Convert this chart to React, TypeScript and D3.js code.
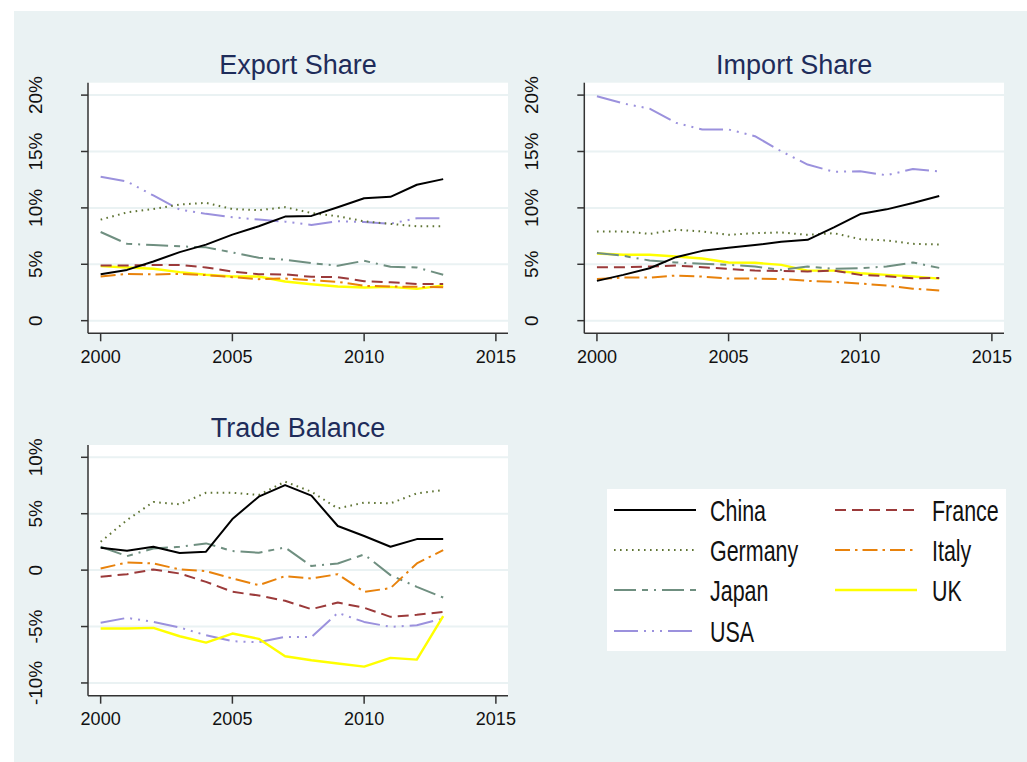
import React from "react";
import * as d3 from "d3";

// years shared by every series
const years = [2000, 2001, 2002, 2003, 2004, 2005, 2006, 2007, 2008, 2009, 2010, 2011, 2012, 2013];

const countries = ["China", "France", "Germany", "Italy", "Japan", "UK", "USA"];

// export share, % of world exports
const exportChina = [4.12, 4.5, 5.25, 6.08, 6.74, 7.63, 8.37, 9.23, 9.29, 10.06, 10.86, 10.98, 12.05, 12.55];
const exportFrance = [4.9, 4.9, 4.93, 4.93, 4.72, 4.36, 4.12, 4.1, 3.89, 3.86, 3.5, 3.41, 3.26, 3.26];
const exportGermany = [8.96, 9.6, 9.9, 10.3, 10.45, 9.9, 9.8, 10.06, 9.55, 9.26, 8.81, 8.58, 8.37, 8.37];
const exportItaly = [3.92, 4.15, 4.1, 4.15, 4.04, 3.86, 3.68, 3.74, 3.59, 3.44, 3.09, 3.03, 3.0, 2.97];
const exportJapan = [7.86, 6.82, 6.7, 6.59, 6.5, 6.05, 5.58, 5.4, 5.1, 4.87, 5.31, 4.78, 4.72, 4.07];
const exportUK = [4.84, 4.72, 4.6, 4.3, 4.07, 3.92, 3.92, 3.47, 3.23, 3.03, 2.94, 3.0, 2.82, 3.12];
const exportUSA = [12.76, 12.34, 11.1, 9.85, 9.47, 9.17, 8.96, 8.78, 8.49, 8.81, 8.75, 8.6, 9.08, 9.08];

// import share, % of world imports
const importChina = [3.53, 4.06, 4.65, 5.63, 6.19, 6.46, 6.7, 6.99, 7.17, 8.27, 9.45, 9.87, 10.43, 11.05];
const importFrance = [4.74, 4.74, 4.8, 4.89, 4.74, 4.59, 4.44, 4.41, 4.36, 4.44, 4.06, 3.94, 3.76, 3.79];
const importGermany = [7.91, 7.91, 7.7, 8.06, 7.91, 7.61, 7.76, 7.82, 7.61, 7.76, 7.23, 7.11, 6.81, 6.76];
const importItaly = [3.7, 3.82, 3.82, 4.0, 3.91, 3.73, 3.73, 3.7, 3.53, 3.44, 3.29, 3.11, 2.84, 2.67];
const importJapan = [6.01, 5.75, 5.33, 5.16, 5.04, 4.95, 4.8, 4.5, 4.8, 4.59, 4.65, 4.8, 5.16, 4.68];
const importUK = [5.96, 5.84, 5.84, 5.69, 5.51, 5.16, 5.13, 4.95, 4.44, 4.44, 4.21, 4.06, 3.91, 3.73];
const importUSA = [19.9, 19.26, 18.8, 17.54, 16.95, 16.95, 16.36, 15.02, 13.84, 13.21, 13.24, 12.89, 13.45, 13.24];

// trade balance, % of trade
const balanceChina = [1.98, 1.72, 2.07, 1.51, 1.63, 4.53, 6.51, 7.54, 6.6, 3.91, 3.02, 2.07, 2.75, 2.75];
const balanceFrance = [-0.59, -0.36, 0.06, -0.3, -1.04, -1.92, -2.25, -2.72, -3.46, -2.87, -3.34, -4.14, -3.96, -3.7];
const balanceGermany = [2.51, 4.44, 6.04, 5.83, 6.86, 6.86, 6.66, 7.84, 6.95, 5.47, 5.98, 5.92, 6.8, 7.1];
const balanceItaly = [0.15, 0.68, 0.59, 0.06, -0.09, -0.74, -1.33, -0.53, -0.74, -0.36, -1.92, -1.6, 0.59, 1.78];
const balanceJapan = [2.07, 1.24, 1.92, 2.07, 2.37, 1.69, 1.54, 2.01, 0.36, 0.59, 1.39, -0.44, -1.48, -2.43];
const balanceUK = [-5.18, -5.18, -5.12, -5.86, -6.42, -5.62, -6.09, -7.63, -7.99, -8.28, -8.55, -7.78, -7.93, -4.08];
const balanceUSA = [-4.67, -4.23, -4.59, -5.09, -5.77, -6.3, -6.39, -5.92, -5.92, -3.79, -4.59, -5.03, -4.88, -4.29];

const shareTicks = [0, 5, 10, 15, 20];
const balanceTicks = [-10, -5, 0, 5, 10];
const yearTicks = [2000, 2005, 2010, 2015];

const styles: Record<string, { color: string; dash: string; width: number }> = {
  China: { color: "#000000", dash: "none", width: 2 },
  France: { color: "#9b3a3a", dash: "11 6", width: 2 },
  Germany: { color: "#5f7434", dash: "1.6 4.4", width: 2 },
  Italy: { color: "#e8820c", dash: "15 5 2.5 5", width: 2 },
  Japan: { color: "#6f8f80", dash: "22 6 6 6 2 6", width: 2 },
  UK: { color: "#ffff00", dash: "none", width: 2.4 },
  USA: { color: "#9b91dd", dash: "24 6 2 6 2 6 2 6", width: 2 },
};

const BG = "#eaf2f3";
const FONT = "Arial, 'Liberation Sans', sans-serif";

type Panel = {
  title: string;
  x0: number; x1: number; y0: number; y1: number;
  domain: [number, number];
  ticks: number[];
  series: number[][];
  labelY: number;
};

const panels: Panel[] = [
  {
    title: "Export Share", x0: 88, x1: 508, y0: 82.7, y1: 333.3, domain: [-1.12, 21.1], ticks: shareTicks, labelY: 362.7,
    series: [exportChina, exportFrance, exportGermany, exportItaly, exportJapan, exportUK, exportUSA],
  },
  {
    title: "Import Share", x0: 584.3, x1: 1004, y0: 82.7, y1: 333.3, domain: [-1.12, 21.1], ticks: shareTicks, labelY: 362.7,
    series: [importChina, importFrance, importGermany, importItaly, importJapan, importUK, importUSA],
  },
  {
    title: "Trade Balance", x0: 88, x1: 508, y0: 445, y1: 695.7, domain: [-11.13, 11.09], ticks: balanceTicks, labelY: 725,
    series: [balanceChina, balanceFrance, balanceGermany, balanceItaly, balanceJapan, balanceUK, balanceUSA],
  },
];

// drawing order: China on top like in the original
const drawOrder = ["USA", "UK", "Japan", "Italy", "Germany", "France", "China"];

const PanelView = ({ p }: { p: Panel }) => {
  const x = d3.scaleLinear().domain([1999.52, 2015.46]).range([p.x0, p.x1]);
  const y = d3.scaleLinear().domain(p.domain).range([p.y1, p.y0]);
  const line = d3.line<[number, number]>().x(d => x(d[0])).y(d => y(d[1]));
  const cx = (p.x0 + p.x1) / 2;
  return (
    <g>
      <rect x={p.x0} y={p.y0} width={p.x1 - p.x0} height={p.y1 - p.y0} fill="#ffffff" />
      {p.ticks.map(t => (
        <line key={"g" + t} x1={p.x0} x2={p.x1} y1={y(t)} y2={y(t)} stroke={BG} strokeWidth={2} />
      ))}
      {drawOrder.map(name => {
        const i = countries.indexOf(name);
        const s = styles[name];
        const pts = years.map((yr, k) => [yr, p.series[i][k]] as [number, number]);
        return (
          <path key={name} d={line(pts) || ""} fill="none" stroke={s.color} strokeWidth={s.width}
            strokeDasharray={s.dash} strokeLinejoin="round" />
        );
      })}
      <line x1={p.x0} x2={p.x0} y1={p.y0} y2={p.y1} stroke="#333" strokeWidth={1.5} />
      <line x1={p.x0} x2={p.x1} y1={p.y1} y2={p.y1} stroke="#333" strokeWidth={1.5} />
      {p.ticks.map(t => (
        <g key={"y" + t}>
          <line x1={p.x0 - 7} x2={p.x0} y1={y(t)} y2={y(t)} stroke="#333" strokeWidth={1.5} />
          <text transform={`translate(${p.x0 - 46.5},${y(t)}) rotate(-90)`} textAnchor="middle"
            fontSize={19} fontFamily={FONT} fill="#111">
            {t === 0 ? "0" : `${t}%`}
          </text>
        </g>
      ))}
      {yearTicks.map(t => (
        <g key={"x" + t}>
          <line x1={x(t)} x2={x(t)} y1={p.y1} y2={p.y1 + 8} stroke="#333" strokeWidth={1.5} />
          <text x={x(t)} y={p.labelY} textAnchor="middle" fontSize={18} fontFamily={FONT} fill="#111">{t}</text>
        </g>
      ))}
      <text x={cx} y={p.y0 - 8.5} textAnchor="middle" fontSize={27} fontFamily={FONT} fill="#1e2c5a">{p.title}</text>
    </g>
  );
};

const legendRows = [["China", "France"], ["Germany", "Italy"], ["Japan", "UK"], ["USA"]];
const rowY = [510, 550, 590, 631];
const colX = [{ l0: 614, l1: 696, tx: 710 }, { l0: 835, l1: 917, tx: 932 }];

const App = () => {
  return (
    <div style={{ position: "absolute", left: 0, top: 0 }}>
      <svg width={1027} height={762} style={{ display: "block" }}>
        <rect x={0} y={0} width={1027} height={762} fill="#ffffff" />
        <rect x={14} y={11} width={1013} height={751} fill={BG} />
        {panels.map(p => <PanelView key={p.title} p={p} />)}
        <rect x={607} y={489} width={399} height={162} fill="#ffffff" />
        {legendRows.map((row, r) => row.map((name, c) => {
          const s = styles[name];
          const col = colX[c];
          return (
            <g key={name}>
              <line x1={col.l0} x2={col.l1} y1={rowY[r]} y2={rowY[r]} stroke={s.color} strokeWidth={s.width}
                strokeDasharray={s.dash} />
              <text transform={`translate(${col.tx},${rowY[r] + 10.5}) scale(0.74,1)`} fontSize={29}
                fontFamily={FONT} fill="#111">{name}</text>
            </g>
          );
        }))}
      </svg>
    </div>
  );
};

export default App;
